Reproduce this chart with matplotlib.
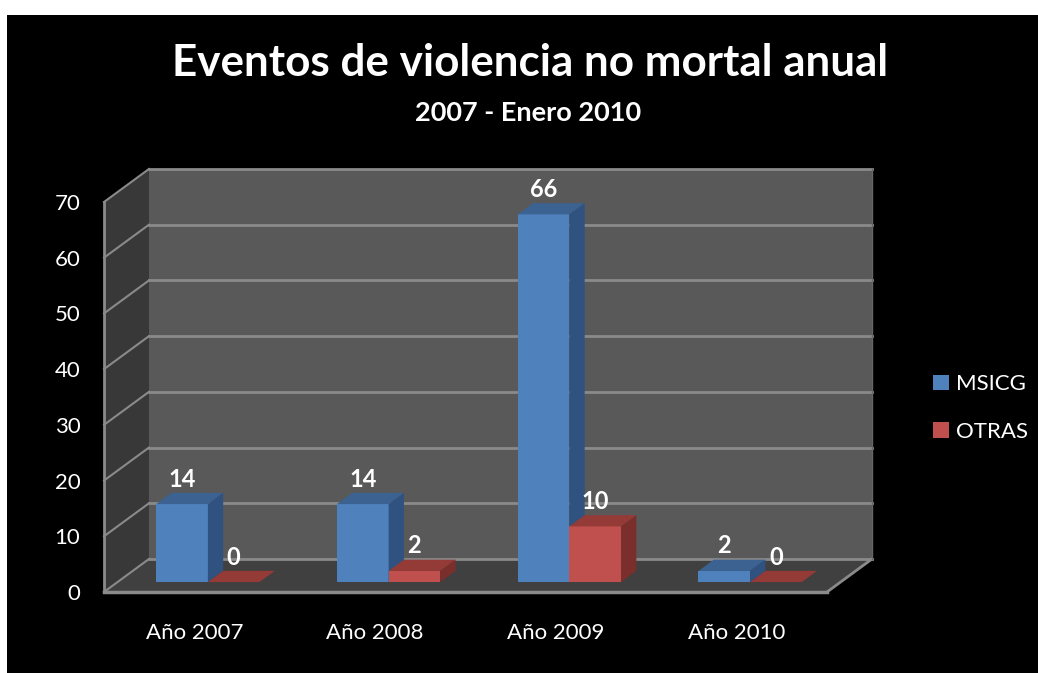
import matplotlib
matplotlib.use("Agg")
import matplotlib.pyplot as plt
from matplotlib.patches import Polygon, Rectangle

categories = ["Año 2007", "Año 2008", "Año 2009", "Año 2010"]
msicg = [14, 14, 66, 2]
otras = [0, 2, 10, 0]
series_names = ["MSICG", "OTRAS"]
yticks = [0, 10, 20, 30, 40, 50, 60, 70]

FONT = ["Lato", "DejaVu Sans"]

# colours: front, top, side
blue = ("#4f81bd", "#3b6291", "#2f5280")
red = ("#c0504d", "#943a37", "#7a2f2d")
wall_back = "#595959"
wall_side = "#383838"
floor_col = "#404040"
grid_col = "#8a8a8a"

# oblique 3D depth offset in data units (full depth)
DX, DY = 0.249, 5.93
Z0, ZD = 0.30, 0.34  # bar front depth and bar depth (fraction)
W = 1 / 3.5          # bar width, gap 150%

W_PX, H_PX = 1038, 673
fig = plt.figure(figsize=(W_PX / 100, H_PX / 100), dpi=100, facecolor="white")
fig.patches.append(Rectangle((7 / W_PX, 0), 1, 1 - 15 / H_PX, transform=fig.transFigure,
                             facecolor="black", edgecolor="none", zorder=-10))

ax = fig.add_axes([104 / W_PX, 81 / H_PX, 723 / W_PX, 390 / H_PX])
ax.set_xlim(0, 4)
ax.set_ylim(0, 70)
ax.patch.set_visible(False)
for s in ax.spines.values():
    s.set_visible(False)

ymax = yticks[-1]
# floor
ax.add_patch(Polygon([(0, 0), (4, 0), (4 + DX, DY), (DX, DY)], closed=True,
                     facecolor=floor_col, edgecolor="none", clip_on=False, zorder=1))
# side wall
ax.add_patch(Polygon([(0, 0), (DX, DY), (DX, ymax + DY), (0, ymax)], closed=True,
                     facecolor=wall_side, edgecolor="none", clip_on=False, zorder=1))
# back wall
ax.add_patch(Polygon([(DX, DY), (4 + DX, DY), (4 + DX, ymax + DY), (DX, ymax + DY)], closed=True,
                     facecolor=wall_back, edgecolor="none", clip_on=False, zorder=1))

for v in yticks:
    ax.plot([DX, 4 + DX], [v + DY, v + DY], color=grid_col, lw=2, clip_on=False, zorder=2)
    ax.plot([0, DX], [v, v + DY], color=grid_col, lw=1.5, clip_on=False, zorder=2)
ax.plot([0, 0], [0, ymax], color=grid_col, lw=2, clip_on=False, zorder=2)
ax.plot([0, 4], [0, 0], color=grid_col, lw=2.5, clip_on=False, zorder=2)
ax.plot([4, 4 + DX], [0, DY], color=grid_col, lw=2, clip_on=False, zorder=2)
ax.plot([4 + DX, 4 + DX], [DY, ymax + DY], color="#666666", lw=1, clip_on=False, zorder=2)


def bar3d(x, h, cols):
    fx, fy = x + Z0 * DX, Z0 * DY
    ddx, ddy = ZD * DX, ZD * DY
    ax.add_patch(Polygon([(fx, fy), (fx + W, fy), (fx + W, fy + h), (fx, fy + h)],
                         closed=True, facecolor=cols[0], edgecolor="none", clip_on=False, zorder=3))
    ax.add_patch(Polygon([(fx, fy + h), (fx + W, fy + h), (fx + W + ddx, fy + h + ddy),
                          (fx + ddx, fy + h + ddy)],
                         closed=True, facecolor=cols[1], edgecolor="none", clip_on=False, zorder=3))
    ax.add_patch(Polygon([(fx + W, fy), (fx + W + ddx, fy + ddy), (fx + W + ddx, fy + h + ddy),
                          (fx + W, fy + h)],
                         closed=True, facecolor=cols[2], edgecolor="none", clip_on=False, zorder=3))
    ax.text(fx + W / 2, fy + h + 4.5, str(h), ha="center", va="center", color="white",
            fontsize=17, fontweight="bold", family=FONT, zorder=5)


for i in range(len(categories)):
    start = i + 0.75 * W
    bar3d(start, msicg[i], blue)
    bar3d(start + W, otras[i], red)

ax.set_yticks(yticks)
ax.set_yticklabels([str(v) for v in yticks], color="white", fontsize=16, family=FONT)
ax.tick_params(axis="y", length=0, pad=17)
ax.set_xticks([i + 0.5 for i in range(len(categories))])
ax.set_xticklabels(categories, color="white", fontsize=16, family=FONT)
ax.tick_params(axis="x", length=0, pad=22)

fig.text(530 / W_PX, 1 - 63 / H_PX, "Eventos de violencia no mortal anual", ha="center", va="center",
         color="white", fontsize=31.7, fontweight="bold", family=FONT)
fig.text(528 / W_PX, 1 - 113 / H_PX, "2007 - Enero 2010", ha="center", va="center",
         color="white", fontsize=19.5, fontweight="bold", family=FONT)

handles = [Rectangle((0, 0), 1, 1, facecolor=blue[0]), Rectangle((0, 0), 1, 1, facecolor=red[0])]
leg = fig.legend(handles, series_names, loc="center left", bbox_to_anchor=(913 / W_PX, 1 - 408 / H_PX),
                 frameon=False, labelcolor="white", prop={"family": FONT, "size": 16},
                 handlelength=0.7, handleheight=0.7, handletextpad=0.35, labelspacing=1.25)

fig.savefig("out.png", dpi=100, facecolor="white")
